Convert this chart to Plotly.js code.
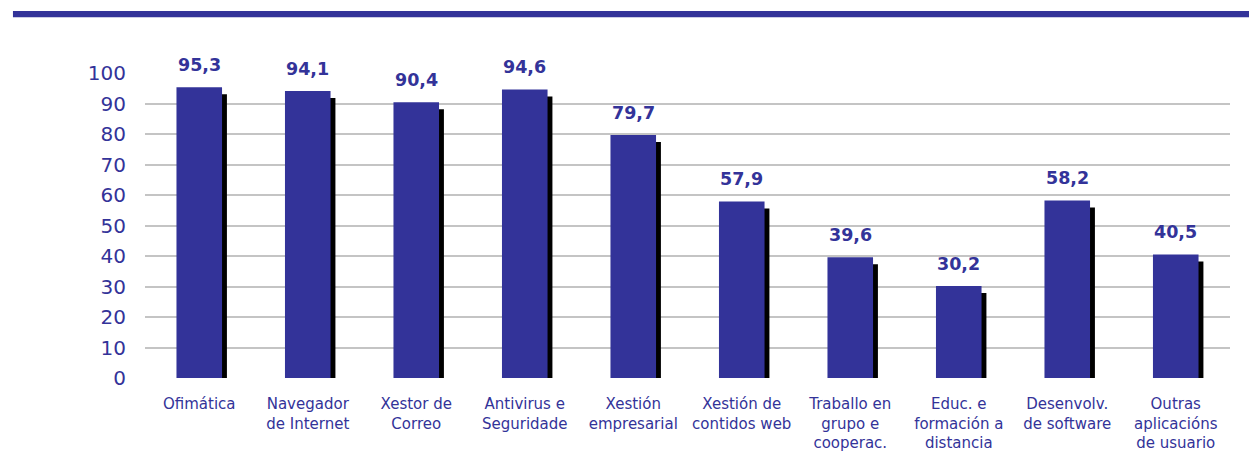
<!DOCTYPE html>
<html><head><meta charset="utf-8">
<script src="https://cdn.plot.ly/plotly-3.0.1.min.js"></script>
<style>html,body{margin:0;padding:0;background:#fff}#chart{width:1249px;height:463px}</style>
</head><body><div id="chart"></div>
<script>
const categories = ["Ofimática","Navegador<br>de Internet","Xestor de<br>Correo","Antivirus e<br>Seguridade","Xestión<br>empresarial","Xestión de<br>contidos web","Traballo en<br>grupo e<br>cooperac.","Educ. e<br>formación a<br>distancia","Desenvolv.<br>de software","Outras<br>aplicacións<br>de usuario"];
const values = [95.3, 94.1, 90.4, 94.6, 79.7, 57.9, 39.6, 30.2, 58.2, 40.5];
const valueLabels = ["95,3","94,1","90,4","94,6","79,7","57,9","39,6","30,2","58,2","40,5"];
const yTicks = [0,10,20,30,40,50,60,70,80,90,100];

const navy = "#333399";
const idx = categories.map((c,i)=>i);
const shadowDrop = 2.3;

const shadow = {type:"bar", x:idx, y:values.map(v=>v-shadowDrop), width:0.42, offset:-0.165,
  marker:{color:"#000"}, hoverinfo:"skip"};
const bars = {type:"bar", x:idx, y:values, width:0.42, offset:-0.21,
  marker:{color:navy, line:{width:0}}, hoverinfo:"skip"};

const annotations = values.map((v,i)=>({x:i, y:v, xref:"x", yref:"y", text:"<b>"+valueLabels[i]+"</b>",
  showarrow:false, yanchor:"bottom", yshift:10, font:{family:"DejaVu Sans", size:17.5, color:navy}}));

const layout = {
  width:1249, height:463, margin:{l:145, r:19, t:73, b:85},
  paper_bgcolor:"#fff", plot_bgcolor:"#fff", showlegend:false, barmode:"overlay",
  xaxis:{tickvals:idx, ticktext:categories, range:[-0.5,9.5], showgrid:false, zeroline:false,
    showline:false, ticks:"outside", ticklen:12, tickcolor:"rgba(0,0,0,0)",
    tickfont:{family:"DejaVu Sans", size:15, color:navy}},
  yaxis:{range:[0,100], tickvals:yTicks, showgrid:true, gridcolor:"#c4c4c4", gridwidth:2,
    zeroline:false, showline:false, ticks:"outside", ticklen:14, tickcolor:"rgba(0,0,0,0)",
    tickfont:{family:"DejaVu Sans", size:20, color:navy}},
  annotations:annotations,
  shapes:[{type:"rect", xref:"paper", yref:"paper", x0:-0.1217, x1:1.02, y0:1.183, y1:1.2033,
    fillcolor:navy, line:{width:0}}]
};
Plotly.newPlot("chart", [shadow, bars], layout, {staticPlot:true, displayModeBar:false});
</script></body></html>
